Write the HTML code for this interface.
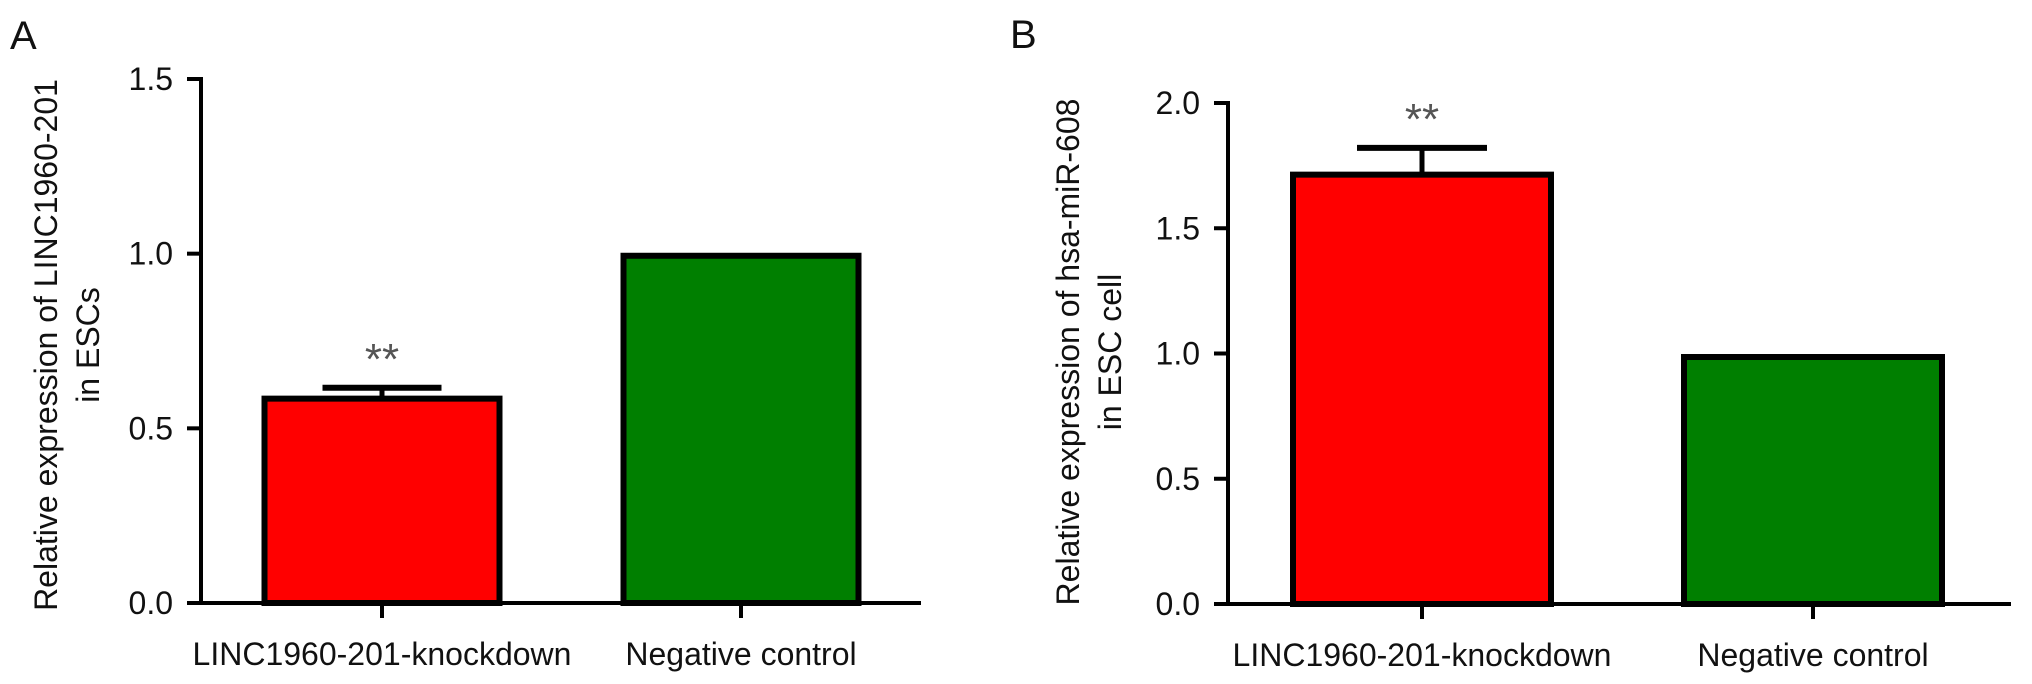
<!DOCTYPE html>
<html><head><meta charset="utf-8"><style>
html,body{margin:0;padding:0;background:#fff;}
svg{display:block;font-family:"Liberation Sans",Arial,sans-serif;}
</style></head><body>
<svg id="fig" width="2032" height="684" viewBox="0 0 2032 684">
<text x="10" y="49" font-size="40" fill="#111">A</text>
<text x="1010" y="48" font-size="40" fill="#111">B</text>
<g id="pa"></g>
<g id="pb"></g>
</svg>
<script>
const categories = ["LINC1960-201-knockdown", "Negative control"];
const valuesA = [0.585, 0.994];
const errorsA = [0.031, 0];
const ticksA = ["0.0", "0.5", "1.0", "1.5"];
const valuesB = [1.714, 0.986];
const errorsB = [0.107, 0];
const ticksB = ["0.0", "0.5", "1.0", "1.5", "2.0"];
const colors = ["#ff0000", "#007f00"];
const NS = "http://www.w3.org/2000/svg";
function mk(tag, attrs, parent, txt) {
  const e = document.createElementNS(NS, tag);
  for (const k in attrs) e.setAttribute(k, attrs[k]);
  if (txt !== undefined) e.textContent = txt;
  parent.appendChild(e);
  return e;
}
function draw(g, cfg, values, errors, ticks) {
  const yScale = v => cfg.y0 - (v / cfg.ymax) * (cfg.y0 - cfg.ytop);
  values.forEach((v, i) => {
    const cx = cfg.centers[i];
    const r = mk('rect', {x: cx - cfg.bw / 2, y: yScale(v), width: cfg.bw, height: cfg.y0 - yScale(v), fill: colors[i], stroke: '#000', 'stroke-width': 6}, g);
    
    
    if (errors[i] > 0) {
      const top = yScale(v + errors[i]);
      const l = mk('line', {x1: cx, x2: cx, y1: yScale(v), y2: top, stroke: '#000', 'stroke-width': 5}, g);
      
      
      const c = mk('line', {x1: cx - cfg.cap / 2, x2: cx + cfg.cap / 2, y1: top, y2: top, stroke: '#000', 'stroke-width': 6}, g);
      
      
      const s = mk('text', {x: cx, y: top - 14, 'font-size': 44, 'text-anchor': 'middle', fill: '#555'}, g, '**');
      
      
    }
    const xt = mk('line', {x1: cx, x2: cx, y1: cfg.y0, y2: cfg.y0 + 15, stroke: '#000', 'stroke-width': 4}, g);
    
    
    const lb = mk('text', {x: cx, y: cfg.y0 + 62, 'font-size': 32, 'text-anchor': 'middle', fill: '#111'}, g, categories[i]);
    
    
  });
  const ya = mk('line', {x1: cfg.ax, x2: cfg.ax, y1: cfg.ytop - 2, y2: cfg.y0 + 2, stroke: '#000', 'stroke-width': 4}, g);
  
  
  const xa = mk('line', {x1: cfg.ax - 14, x2: cfg.xend, y1: cfg.y0, y2: cfg.y0, stroke: '#000', 'stroke-width': 4}, g);
  
  
  ticks.forEach(t => {
    const y = yScale(parseFloat(t));
    const tl = mk('line', {x1: cfg.ax - 14, x2: cfg.ax, y1: y, y2: y, stroke: '#000', 'stroke-width': 4}, g);
    
    
    const tx = mk('text', {x: cfg.ax - 28, y: y + 11, 'font-size': 32, 'text-anchor': 'end', fill: '#111'}, g, t);
    
    
  });
  const tt = mk('text', {transform: `translate(${cfg.tx},${cfg.ty}) rotate(-90)`, 'font-size': 32, 'text-anchor': 'middle', fill: '#111'}, g);
  
  
  mk('tspan', {x: 0, y: 0}, tt, cfg.t1);
  mk('tspan', {x: 0, y: 42}, tt, cfg.t2);
}
draw(document.getElementById('pa'), {ax: 201, y0: 603, ytop: 79, ymax: 1.5, xend: 921, centers: [382, 741], bw: 235, cap: 119, tx: 57, ty: 345, t1: 'Relative expression of LINC1960-201', t2: 'in ESCs'}, valuesA, errorsA, ticksA);
draw(document.getElementById('pb'), {ax: 1228, y0: 604, ytop: 103, ymax: 2.0, xend: 2011, centers: [1422, 1813], bw: 258, cap: 130, tx: 1079, ty: 352, t1: 'Relative expression of hsa-miR-608', t2: 'in ESC cell'}, valuesB, errorsB, ticksB);
</script>
</body></html>
